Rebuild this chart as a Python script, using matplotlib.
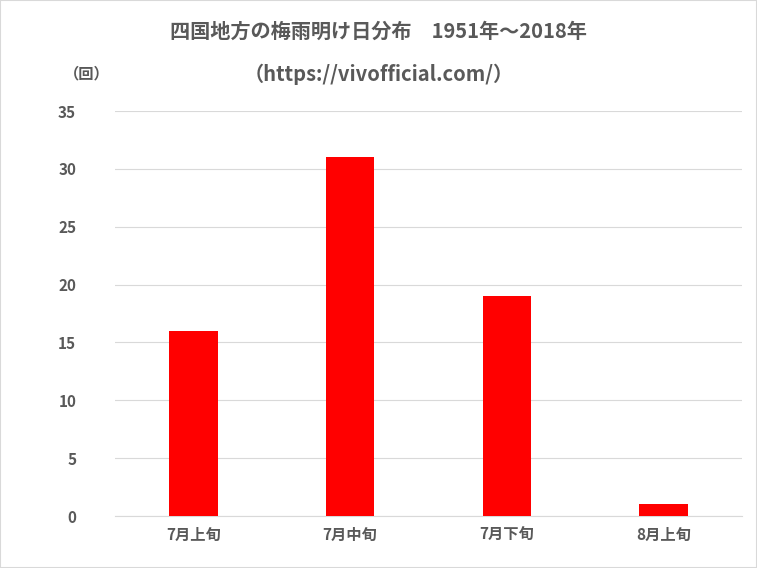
import matplotlib
matplotlib.use("Agg")
import matplotlib.pyplot as plt
from matplotlib.patches import Rectangle

plt.rcParams['font.family'] = ['Noto Sans CJK JP', 'DejaVu Sans']

categories = ['7月上旬', '7月中旬', '7月下旬', '8月上旬']
counts = [16, 31, 19, 1]
yticks = [0, 5, 10, 15, 20, 25, 30, 35]

fig = plt.figure(figsize=(7.57, 5.68), dpi=100)
ax = fig.add_axes([0.152, 0.0915, 0.828, 0.713])

ax.bar(range(len(categories)), counts, width=0.31, color='#ff0000', zorder=3)
ax.set_xlim(-0.5, len(categories) - 0.5)
ax.set_ylim(0, 35)
ax.set_yticks(yticks)
ax.set_xticks(range(len(categories)))
ax.set_xticklabels(categories, fontsize=11, fontweight='bold', color='#595959')
ax.tick_params(axis='y', labelsize=11, colors='#595959', length=0, pad=28)
ax.tick_params(axis='x', length=0, pad=8)
for lbl in ax.get_yticklabels():
    lbl.set_fontweight('bold')
ax.grid(axis='y', color='#d9d9d9', linewidth=0.8, zorder=0)
for s in ['top', 'right', 'left']:
    ax.spines[s].set_visible(False)
ax.spines['bottom'].set_color('#d9d9d9')

fig.text(0.5, 0.945, '四国地方の梅雨明け日分布　1951年～2018年', ha='center', va='center',
         fontsize=14.5, fontweight='bold', color='#595959')
fig.text(0.5, 0.87, '（https://vivofficial.com/）', ha='center', va='center',
         fontsize=14.5, fontweight='bold', color='#595959')
fig.text(0.115, 0.87, '（回）', ha='center', va='center', fontsize=11,
         fontweight='bold', color='#595959')

fig.patches.append(Rectangle((0, 0), 1, 1, transform=fig.transFigure, fill=False,
                             edgecolor='#d9d9d9', linewidth=1.5))

fig.savefig('out.png', dpi=100)
